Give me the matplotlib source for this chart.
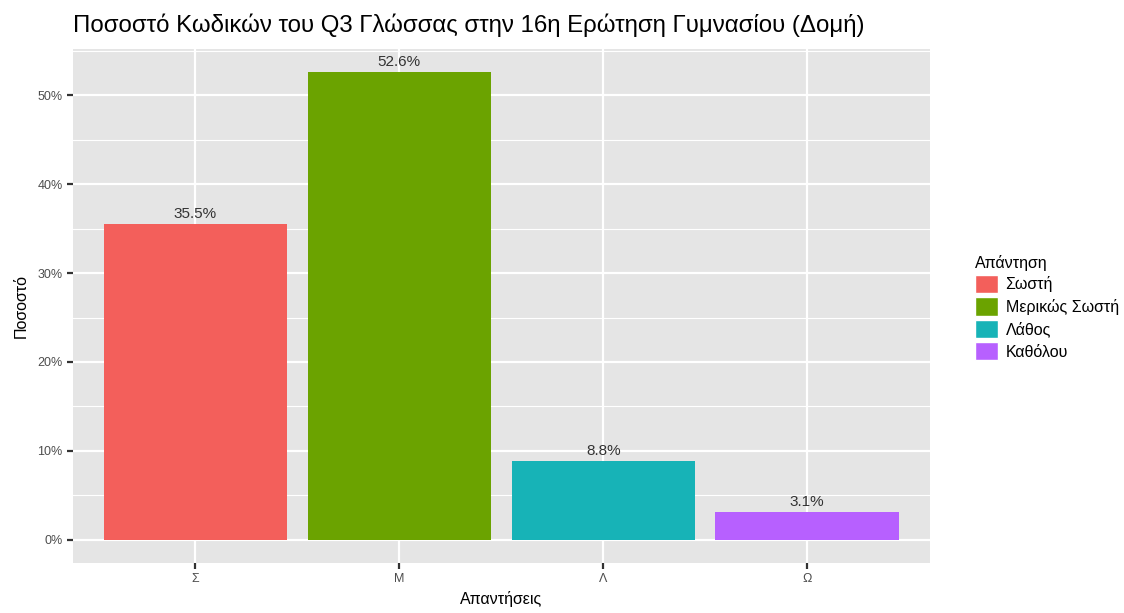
import matplotlib.pyplot as plt
from matplotlib.patches import Patch
import numpy as np

plt.rcParams['font.family'] = ['Liberation Sans', 'DejaVu Sans']

codes = ['Σ', 'Μ', 'Λ', 'Ω']
answers = ['Σωστή', 'Μερικώς Σωστή', 'Λάθος', 'Καθόλου']
percent = [35.5, 52.6, 8.8, 3.1]
colors = ['#F35F5B', '#6BA300', '#17B3B7', '#B760FF']

fig = plt.figure(figsize=(11.24, 6.13), dpi=100)
ax = fig.add_axes([0.065, 0.0816, 0.762, 0.8385])
ax.set_facecolor('#E5E5E5')

x = np.arange(len(codes))
bars = ax.bar(x, percent, width=0.9, color=colors, zorder=3)
for xi, v in zip(x, percent):
    ax.text(xi, v + 0.4, f'{v}%', ha='center', va='bottom', fontsize=11, color='#333333', zorder=4)

ax.set_xlim(-0.6, 3.6)
ax.set_ylim(-2.63, 55.23)
ax.set_xticks(x)
ax.set_xticklabels(codes)
yt = [0, 10, 20, 30, 40, 50]
ax.set_yticks(yt)
ax.set_yticklabels([f'{t}%' for t in yt])
ax.set_yticks([5, 15, 25, 35, 45, 55], minor=True)
ax.grid(True, which='major', color='white', linewidth=1.6, zorder=0)
ax.grid(True, which='minor', axis='y', color='white', linewidth=0.8, zorder=0)
ax.tick_params(which='major', length=4, width=1.6, color='#333333', labelsize=9, labelcolor='#4D4D4D')
ax.tick_params(which='minor', length=0)
for s in ax.spines.values():
    s.set_visible(False)

ax.set_xlabel('Απαντήσεις', fontsize=11.5, color='black', labelpad=4)
ax.set_ylabel('Ποσοστό', fontsize=11.5, color='black', labelpad=6)
ax.set_title('Ποσοστό Κωδικών του Q3 Γλώσσας στην 16η Ερώτηση Γυμνασίου (Δομή)',
             fontsize=17.3, loc='left', x=0.0, pad=12)

handles = [Patch(facecolor=c, edgecolor='white', label=a) for c, a in zip(colors, answers)]
leg = fig.legend(handles=handles, title='Απάντηση', loc='upper left',
                 bbox_to_anchor=(0.862, 0.595), frameon=False, fontsize=11.5,
                 title_fontsize=11.5, handlelength=1.4, handleheight=1.4,
                 handletextpad=0.5, labelspacing=0.25, borderaxespad=0)
leg._legend_box.align = 'left'

fig.savefig('out.png', dpi=100)
